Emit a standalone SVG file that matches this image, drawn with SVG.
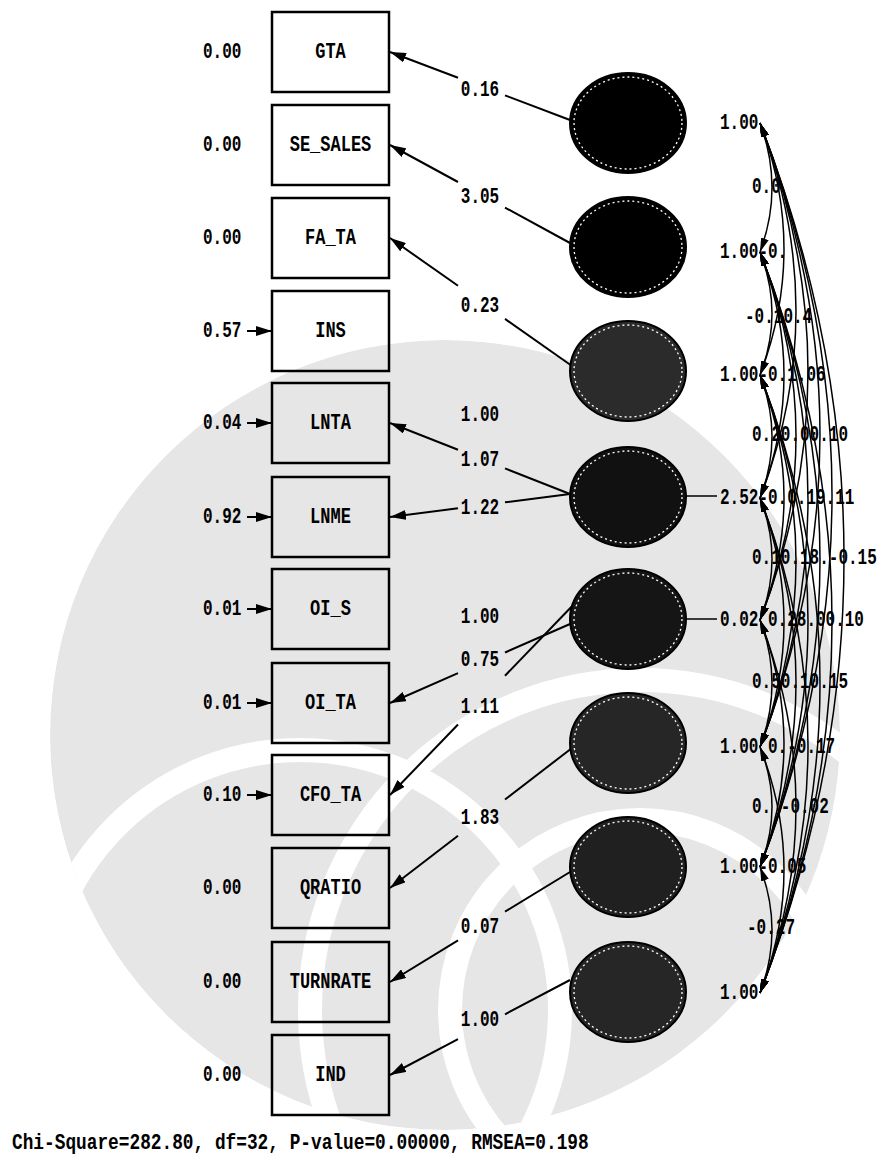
<svg xmlns="http://www.w3.org/2000/svg" width="891" height="1159" viewBox="0 0 891 1159">
<style>
.t{font-family:"Liberation Mono",monospace;font-weight:bold;font-size:16px;fill:#000}
.bl{font-family:"Liberation Mono",monospace;font-weight:bold;font-size:17px;fill:#000;text-anchor:middle}
.ld{font-family:"Liberation Mono",monospace;font-weight:bold;font-size:16px;fill:#000;text-anchor:middle}
.box{fill:none;stroke:#000;stroke-width:2.5}
.ell{fill:#000;stroke:#000;stroke-width:2}
.dot{fill:none;stroke:#fff;stroke-width:1.3;stroke-dasharray:2 3}
.ln{fill:none;stroke:#000;stroke-width:2}
.cv{fill:none;stroke:#000;stroke-width:1.5;marker-start:url(#sa);marker-end:url(#sa)}
</style>
<defs>
<marker id="ah" markerUnits="userSpaceOnUse" markerWidth="16" markerHeight="10" refX="16" refY="5" orient="auto"><path d="M0,0 L16,5 L0,10 z" fill="#000"/></marker>
<marker id="sa" markerUnits="userSpaceOnUse" markerWidth="14" markerHeight="8" refX="14" refY="4" orient="auto-start-reverse"><path d="M0,0 L14,4 L0,8 z" fill="#000"/></marker>
<clipPath id="wc"><circle cx="445" cy="735" r="395"/></clipPath>
</defs>
<rect width="891" height="1159" fill="#fff"/>
<g id="watermark" clip-path="url(#wc)">
<circle cx="445" cy="735" r="395" fill="#e6e6e6"/>
<g fill="none" stroke="#fff" stroke-width="24">
<circle cx="640" cy="1010" r="190"/>
<circle cx="640" cy="1010" r="330"/>
<circle cx="300" cy="1010" r="260"/>
</g>
</g>
<g id="connectors">
<path class="ln" d="M570,120 L505,95.4"/><path class="ln" d="M458,77.7 L390,52" marker-end="url(#ah)"/>
<path class="ln" d="M570,243 L505,207.6"/><path class="ln" d="M458,182 L390,145" marker-end="url(#ah)"/>
<path class="ln" d="M572,366 L505,318.9"/><path class="ln" d="M458,285.8 L390,238" marker-end="url(#ah)"/>
<path class="ln" d="M570,494 L505,468.4"/><path class="ln" d="M458,449.8 L390,423" marker-end="url(#ah)"/>
<path class="ln" d="M570,494 L505,502.3"/><path class="ln" d="M458,508.3 L390,517" marker-end="url(#ah)"/>
<path class="ln" d="M570,624 L505,652.5"/><path class="ln" d="M458,673.2 L390,703" marker-end="url(#ah)"/>
<path class="ln" d="M578,600 L505,675.7"/><path class="ln" d="M458,724.5 L390,795" marker-end="url(#ah)"/>
<path class="ln" d="M572,748 L505,799.5"/><path class="ln" d="M458,835.7 L390,888" marker-end="url(#ah)"/>
<path class="ln" d="M570,872 L505,911.7"/><path class="ln" d="M458,940.4 L390,982" marker-end="url(#ah)"/>
<path class="ln" d="M570,980 L505,1014.3"/><path class="ln" d="M458,1039.1 L390,1075" marker-end="url(#ah)"/>
<path class="ln" d="M247,331 L272,331" marker-end="url(#ah)"/>
<path class="ln" d="M247,423 L272,423" marker-end="url(#ah)"/>
<path class="ln" d="M247,517 L272,517" marker-end="url(#ah)"/>
<path class="ln" d="M247,609 L272,609" marker-end="url(#ah)"/>
<path class="ln" d="M247,703 L272,703" marker-end="url(#ah)"/>
<path class="ln" d="M247,795 L272,795" marker-end="url(#ah)"/>
<path class="ln" d="M686,496 L717,496" style="stroke-width:1.5"/>
<path class="ln" d="M686,619 L717,619" style="stroke-width:1.5"/>
<path class="cv" d="M760,123 Q784,187.5 760,252"/>
<path class="cv" d="M760,123 Q808,249 760,375"/>
<path class="cv" d="M760,123 Q832,310.5 760,498"/>
<path class="cv" d="M760,123 Q856,371.5 760,620"/>
<path class="cv" d="M760,123 Q880,435 760,747"/>
<path class="cv" d="M760,123 Q904,495 760,867"/>
<path class="cv" d="M760,123 Q928,558 760,993"/>
<path class="cv" d="M760,252 Q784,313.5 760,375"/>
<path class="cv" d="M760,252 Q808,375 760,498"/>
<path class="cv" d="M760,252 Q832,436 760,620"/>
<path class="cv" d="M760,252 Q856,499.5 760,747"/>
<path class="cv" d="M760,252 Q880,559.5 760,867"/>
<path class="cv" d="M760,252 Q904,622.5 760,993"/>
<path class="cv" d="M760,375 Q784,436.5 760,498"/>
<path class="cv" d="M760,375 Q808,497.5 760,620"/>
<path class="cv" d="M760,375 Q832,561 760,747"/>
<path class="cv" d="M760,375 Q856,621 760,867"/>
<path class="cv" d="M760,375 Q880,684 760,993"/>
<path class="cv" d="M760,498 Q784,559 760,620"/>
<path class="cv" d="M760,498 Q808,622.5 760,747"/>
<path class="cv" d="M760,498 Q832,682.5 760,867"/>
<path class="cv" d="M760,498 Q856,745.5 760,993"/>
<path class="cv" d="M760,620 Q784,683.5 760,747"/>
<path class="cv" d="M760,620 Q808,743.5 760,867"/>
<path class="cv" d="M760,620 Q832,806.5 760,993"/>
<path class="cv" d="M760,747 Q784,807 760,867"/>
<path class="cv" d="M760,747 Q808,870 760,993"/>
<path class="cv" d="M760,867 Q784,930 760,993"/>
</g>
<g id="loading-labels">
<text class="ld" transform="translate(480,96) scale(1,1.35)">0.16</text>
<text class="ld" transform="translate(480,203) scale(1,1.35)">3.05</text>
<text class="ld" transform="translate(480,312) scale(1,1.35)">0.23</text>
<text class="ld" transform="translate(480,421) scale(1,1.35)">1.00</text>
<text class="ld" transform="translate(480,466) scale(1,1.35)">1.07</text>
<text class="ld" transform="translate(480,514) scale(1,1.35)">1.22</text>
<text class="ld" transform="translate(480,623) scale(1,1.35)">1.00</text>
<text class="ld" transform="translate(480,666) scale(1,1.35)">0.75</text>
<text class="ld" transform="translate(480,713) scale(1,1.35)">1.11</text>
<text class="ld" transform="translate(480,824) scale(1,1.35)">1.83</text>
<text class="ld" transform="translate(480,933) scale(1,1.35)">0.07</text>
<text class="ld" transform="translate(480,1026) scale(1,1.35)">1.00</text>
</g>
<g id="GTA"><rect class="box" x="272" y="12" width="117" height="80"/><text class="bl" transform="translate(330.5,58) scale(1,1.35)">GTA</text><text class="t" transform="translate(203,58) scale(1,1.35)">0.00</text></g>
<g id="SE_SALES"><rect class="box" x="272" y="105" width="117" height="80"/><text class="bl" transform="translate(330.5,151) scale(1,1.35)">SE_SALES</text><text class="t" transform="translate(203,151) scale(1,1.35)">0.00</text></g>
<g id="FA_TA"><rect class="box" x="272" y="198" width="117" height="80"/><text class="bl" transform="translate(330.5,244) scale(1,1.35)">FA_TA</text><text class="t" transform="translate(203,244) scale(1,1.35)">0.00</text></g>
<g id="INS"><rect class="box" x="272" y="291" width="117" height="80"/><text class="bl" transform="translate(330.5,337) scale(1,1.35)">INS</text><text class="t" transform="translate(203,337) scale(1,1.35)">0.57</text></g>
<g id="LNTA"><rect class="box" x="272" y="383" width="117" height="80"/><text class="bl" transform="translate(330.5,429) scale(1,1.35)">LNTA</text><text class="t" transform="translate(203,429) scale(1,1.35)">0.04</text></g>
<g id="LNME"><rect class="box" x="272" y="477" width="117" height="80"/><text class="bl" transform="translate(330.5,523) scale(1,1.35)">LNME</text><text class="t" transform="translate(203,523) scale(1,1.35)">0.92</text></g>
<g id="OI_S"><rect class="box" x="272" y="569" width="117" height="80"/><text class="bl" transform="translate(330.5,615) scale(1,1.35)">OI_S</text><text class="t" transform="translate(203,615) scale(1,1.35)">0.01</text></g>
<g id="OI_TA"><rect class="box" x="272" y="663" width="117" height="80"/><text class="bl" transform="translate(330.5,709) scale(1,1.35)">OI_TA</text><text class="t" transform="translate(203,709) scale(1,1.35)">0.01</text></g>
<g id="CFO_TA"><rect class="box" x="272" y="755" width="117" height="80"/><text class="bl" transform="translate(330.5,801) scale(1,1.35)">CFO_TA</text><text class="t" transform="translate(203,801) scale(1,1.35)">0.10</text></g>
<g id="QRATIO"><rect class="box" x="272" y="848" width="117" height="80"/><text class="bl" transform="translate(330.5,894) scale(1,1.35)">QRATIO</text><text class="t" transform="translate(203,894) scale(1,1.35)">0.00</text></g>
<g id="TURNRATE"><rect class="box" x="272" y="942" width="117" height="80"/><text class="bl" transform="translate(330.5,988) scale(1,1.35)">TURNRATE</text><text class="t" transform="translate(203,988) scale(1,1.35)">0.00</text></g>
<g id="IND"><rect class="box" x="272" y="1035" width="117" height="80"/><text class="bl" transform="translate(330.5,1081) scale(1,1.35)">IND</text><text class="t" transform="translate(203,1081) scale(1,1.35)">0.00</text></g>
<g id="ksi1"><ellipse class="ell" cx="628" cy="123" rx="58" ry="50"/><ellipse class="dot" cx="628" cy="123" rx="54" ry="46"/></g>
<g id="ksi2"><ellipse class="ell" cx="628" cy="247" rx="58" ry="50"/><ellipse class="dot" cx="628" cy="247" rx="54" ry="46"/></g>
<g id="ksi3"><ellipse class="ell" cx="628" cy="371" rx="58" ry="50" style="fill:#2b2b2b"/><ellipse class="dot" cx="628" cy="371" rx="54" ry="46"/></g>
<g id="ksi4"><ellipse class="ell" cx="628" cy="497" rx="58" ry="50" style="fill:#111"/><ellipse class="dot" cx="628" cy="497" rx="54" ry="46"/></g>
<g id="ksi5"><ellipse class="ell" cx="628" cy="619" rx="58" ry="50" style="fill:#151515"/><ellipse class="dot" cx="628" cy="619" rx="54" ry="46"/></g>
<g id="ksi6"><ellipse class="ell" cx="628" cy="743" rx="58" ry="50" style="fill:#262626"/><ellipse class="dot" cx="628" cy="743" rx="54" ry="46"/></g>
<g id="ksi7"><ellipse class="ell" cx="628" cy="867" rx="58" ry="50" style="fill:#202020"/><ellipse class="dot" cx="628" cy="867" rx="54" ry="46"/></g>
<g id="ksi8"><ellipse class="ell" cx="628" cy="992" rx="58" ry="50" style="fill:#262626"/><ellipse class="dot" cx="628" cy="992" rx="54" ry="46"/></g>
<g id="correlation-labels">
<text class="t" transform="translate(720,129) scale(1,1.35)">1.00</text>
<text class="t" transform="translate(752,193) scale(1,1.35)">0.0</text>
<text class="t" transform="translate(720,258) scale(1,1.35)">1.00-0.</text>
<text class="t" transform="translate(745,323) scale(1,1.35)">-0.10.4</text>
<text class="t" transform="translate(720,381) scale(1,1.35)">1.00-0.1.06</text>
<text class="t" transform="translate(752,441) scale(1,1.35)">0.20.00.10</text>
<text class="t" transform="translate(720,504) scale(1,1.35)">2.52-0.0.19.11</text>
<text class="t" transform="translate(752,564) scale(1,1.35)">0.10.18.-0.15</text>
<text class="t" transform="translate(720,626) scale(1,1.35)">0.02 0.28.00.10</text>
<text class="t" transform="translate(752,688) scale(1,1.35)">0.50.10.15</text>
<text class="t" transform="translate(720,753) scale(1,1.35)">1.00 0.-0.17</text>
<text class="t" transform="translate(752,813) scale(1,1.35)">0. -0.02</text>
<text class="t" transform="translate(720,873) scale(1,1.35)">1.00-0.05</text>
<text class="t" transform="translate(747,934) scale(1,1.35)">-0.27</text>
<text class="t" transform="translate(720,999) scale(1,1.35)">1.00</text>
</g>
<text class="t" style="font-size:17.8px" transform="translate(12,1149) scale(1,1.2)">Chi-Square=282.80, df=32, P-value=0.00000, RMSEA=0.198</text>
</svg>
